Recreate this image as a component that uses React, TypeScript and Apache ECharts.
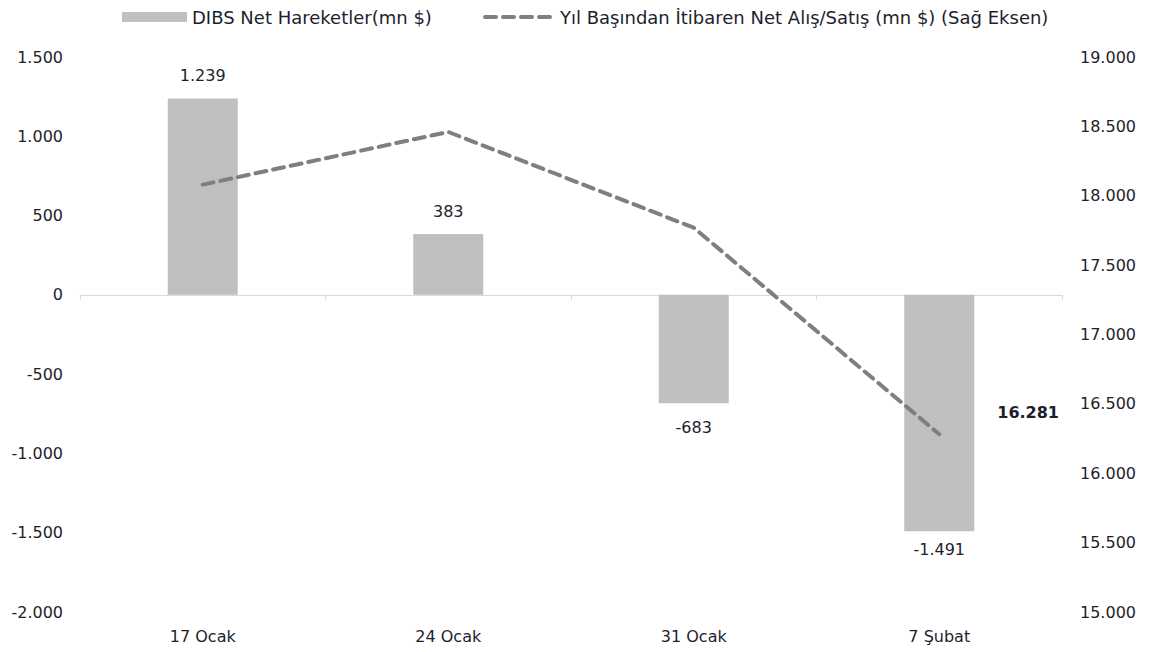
import React, { useEffect, useRef } from "react";
import * as echarts from "echarts";

const categories = ["17 Ocak", "24 Ocak", "31 Ocak", "7 Şubat"];
const netMoves = [1239, 383, -683, -1491];
const ytdNet = [18080, 18460, 17770, 16281];
const barName = "DIBS Net Hareketler(mn $)";
const lineName = "Yıl Başından İtibaren Net Alış/Satış (mn $) (Sağ Eksen)";

const FONT = "DejaVu Sans";
const labelDistances = [15, 15, 16, 10];

function fmt(v: number): string {
  const s = Math.abs(Math.round(v)).toString().replace(/\B(?=(\d{3})+(?!\d))/g, ".");
  return (v < 0 ? "-" : "") + s;
}

export default function App() {
  const ref = useRef<HTMLDivElement>(null);
  useEffect(() => {
    if (!ref.current) return;
    const chart = echarts.init(ref.current, undefined, { renderer: "svg" });
    const text = { fontFamily: FONT, fontSize: 16, color: "#1e1e2e" };
    chart.setOption({
      animation: false,
      backgroundColor: "#fff",
      legend: [
        {
          data: [{ name: barName, icon: "rect" }],
          left: 117,
          top: 3,
          itemWidth: 65,
          itemHeight: 10,
          itemGap: 6,
          textStyle: { ...text, fontSize: 18 },
        },
        {
          data: [lineName],
          left: 478,
          top: 3,
          itemWidth: 70,
          itemHeight: 10,
          itemGap: 6,
          itemStyle: { opacity: 0 },
          lineStyle: { width: 4 },
          textStyle: { ...text, fontSize: 18 },
        },
      ],
      grid: { left: 80, right: 96, top: 57, bottom: 40 },
      xAxis: [
        {
          type: "category",
          data: categories,
          position: "bottom",
          axisLine: { show: false, onZero: false },
          axisTick: { show: false },
          axisLabel: { ...text, margin: 16 },
        },
        {
          type: "category",
          data: categories,
          position: "bottom",
          axisLine: { show: true, onZero: true, lineStyle: { color: "#d9d9d9", width: 1 } },
          axisTick: { show: true, length: 5, lineStyle: { color: "#d9d9d9" } },
          axisLabel: { show: false },
        },
      ],
      yAxis: [
        {
          type: "value",
          min: -2000,
          max: 1500,
          interval: 500,
          axisLine: { show: false },
          axisTick: { show: false },
          splitLine: { show: false },
          axisLabel: { ...text, margin: 17, formatter: (v: number) => fmt(v) },
        },
        {
          type: "value",
          min: 15000,
          max: 19000,
          interval: 500,
          position: "right",
          axisLine: { show: false },
          axisTick: { show: false },
          splitLine: { show: false },
          axisLabel: { ...text, margin: 18, formatter: (v: number) => fmt(v) },
        },
      ],
      series: [
        {
          name: barName,
          type: "bar",
          data: netMoves.map((v, i) => ({ value: v, label: { distance: labelDistances[i] } })),
          xAxisIndex: 0,
          yAxisIndex: 0,
          barWidth: 70,
          itemStyle: { color: "#bfbfbf" },
          label: {
            show: true,
            position: "outside",
            ...text,
            formatter: (p: any) => fmt(p.value),
          },
        },
        {
          name: lineName,
          type: "line",
          data: ytdNet,
          xAxisIndex: 0,
          yAxisIndex: 1,
          symbol: "none",
          lineStyle: { color: "#7f7f7f", width: 4, type: [11, 7], cap: "round" },
          itemStyle: { color: "#7f7f7f" },
          endLabel: {
            show: true,
            distance: 5,
            offset: [53, -22],
            fontFamily: FONT,
            fontSize: 16,
            fontWeight: "bold",
            color: "#1e1e2e",
            formatter: (p: any) => fmt(p.value),
          },
          z: 3,
        },
      ],
    });
    return () => chart.dispose();
  }, []);
  return <div ref={ref} style={{ width: 1158, height: 652, position: "absolute", left: 0, top: 0 }} />;
}
